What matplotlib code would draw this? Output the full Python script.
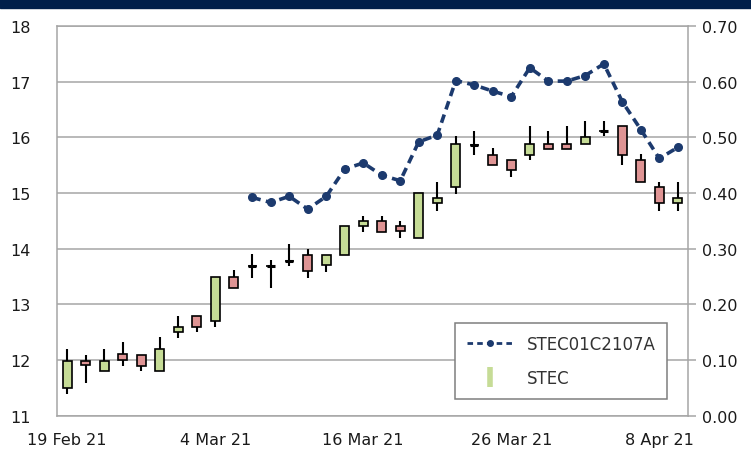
import numpy as np
import matplotlib.pyplot as plt
from matplotlib.lines import Line2D
from matplotlib.patches import Rectangle

# STEC daily candles (left axis)
opens = [11.49, 11.99, 11.81, 12.10, 12.09, 11.81, 12.50, 12.79, 12.70, 13.49,
         13.69, 13.69, 13.78, 13.89, 13.71, 13.89, 14.40, 14.50, 14.40, 14.20,
         14.82, 15.10, 15.87, 15.69, 15.60, 15.69, 15.88, 15.88, 15.88, 16.11,
         16.20, 15.60, 15.10, 14.82]
highs = [12.20, 12.09, 12.20, 12.32, 12.09, 12.41, 12.79, 12.79, 13.49, 13.62,
         13.90, 13.80, 14.08, 13.99, 13.89, 14.40, 14.59, 14.59, 14.50, 15.00,
         15.19, 16.02, 16.12, 15.80, 15.60, 16.21, 16.11, 16.21, 16.30, 16.30,
         16.20, 15.70, 15.19, 15.19]
lows = [11.39, 11.58, 11.81, 11.90, 11.80, 11.81, 12.40, 12.50, 12.59, 13.29,
        13.47, 13.29, 13.69, 13.47, 13.59, 13.89, 14.30, 14.30, 14.20, 14.20,
        14.68, 14.99, 15.69, 15.50, 15.28, 15.59, 15.79, 15.79, 15.88, 16.02,
        15.50, 15.19, 14.68, 14.68]
closes = [11.99, 11.91, 11.99, 12.00, 11.90, 12.19, 12.60, 12.60, 13.49, 13.29,
          13.69, 13.69, 13.78, 13.60, 13.89, 14.40, 14.50, 14.30, 14.31, 15.00,
          14.91, 15.88, 15.87, 15.50, 15.41, 15.88, 15.79, 15.79, 16.01, 16.11,
          15.69, 15.19, 14.82, 14.91]

# STEC01C2107A warrant (right axis), starts at candle 10
warrant_start = 10
warrant = [0.392, 0.383, 0.394, 0.371, 0.394, 0.443, 0.454, 0.432, 0.422, 0.492,
           0.504, 0.602, 0.594, 0.583, 0.573, 0.625, 0.601, 0.601, 0.611, 0.632,
           0.564, 0.514, 0.462, 0.482]

tick_pos = [0, 8, 16, 24, 32]
tick_labels = ['19 Feb 21', '4 Mar 21', '16 Mar 21', '26 Mar 21', '8 Apr 21']

green = '#c6dc96'
red = '#df9494'
navy = '#1c3a6e'
grid_c = '#a6a6a6'
txt = '#1a1a1a'

fig = plt.figure(figsize=(7.51, 4.56), dpi=100)
fig.patches.append(Rectangle((0, 1 - 9 / 456), 1, 9 / 456, transform=fig.transFigure,
                             color='#001f4a', zorder=0))
ax = fig.add_axes([57 / 751, 1 - 416.7 / 456, 631 / 751, 389.7 / 456])

x = np.arange(len(opens))
o = np.array(opens)
c = np.array(closes)
ax.vlines(x, lows, highs, color='black', lw=1.5, zorder=2)
cols = [green if cc > oo else red for oo, cc in zip(o, c)]
ax.bar(x, np.abs(c - o), bottom=np.minimum(o, c), width=0.5, color=cols,
       edgecolor='black', linewidth=1.2, zorder=3)
# doji: open == close, drawn as a short thick dash
doji = np.abs(c - o) < 0.005
ax.hlines(o[doji], x[doji] - 0.22, x[doji] + 0.22, color='black', lw=2.2, zorder=3)

ax.set_xlim(-0.55, len(opens) - 0.45)
ax.set_ylim(11, 18)
ax.set_yticks(range(11, 19))
ax.grid(axis='y', color=grid_c, lw=1.1, zorder=0)
ax.set_xticks(tick_pos)
ax.set_xticklabels(tick_labels)
ax.tick_params(axis='x', length=0, pad=12, labelsize=11.5, labelcolor=txt)
ax.tick_params(axis='y', length=0, pad=19, labelsize=11.5, labelcolor=txt)
for s in ax.spines.values():
    s.set_color(grid_c)
    s.set_linewidth(1.1)

ax2 = ax.twinx()
wx = np.arange(warrant_start, warrant_start + len(warrant))
ax2.plot(wx, warrant, color=navy, ls=(0, (2.4, 1.5)), lw=2.6, marker='o', ms=5.5,
         zorder=4)
ax2.set_ylim(0, 0.7)
ax2.set_yticks(np.arange(0, 0.71, 0.1))
ax2.set_yticklabels([f'{v:.2f}' for v in np.arange(0, 0.71, 0.1)])
ax2.tick_params(axis='y', length=6, width=1.1, color=grid_c, pad=4,
                labelsize=11.5, labelcolor=txt)
for s in ax2.spines.values():
    s.set_visible(False)

handles = [Line2D([], [], color=navy, ls=(0, (2, 1.5)), lw=2, marker='o', ms=4),
           Line2D([], [], color=green, lw=0, marker='|', ms=14, mew=4)]
leg = ax2.legend(handles, ['STEC01C2107A', 'STEC'], loc='lower right',
                 bbox_to_anchor=(0.967, 0.043), fontsize=12, frameon=True,
                 fancybox=False, framealpha=1, edgecolor='#7f7f7f',
                 borderpad=0.7, labelspacing=1.0, handlelength=2.8,
                 borderaxespad=0)
leg.get_frame().set_linewidth(1.1)
for t in leg.get_texts():
    t.set_color('#333333')

fig.savefig('out.png', dpi=100)
